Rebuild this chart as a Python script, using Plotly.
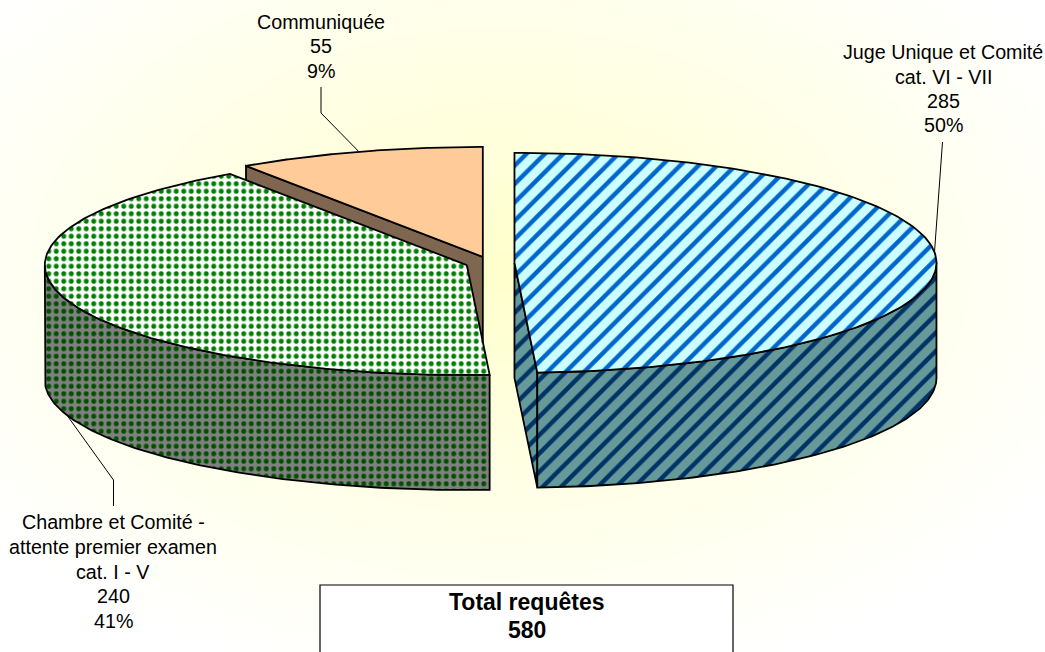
import numpy as np
import plotly.graph_objects as go

# --- data ---
categories = ["Juge Unique et Comité cat. VI - VII",
              "Chambre et Comité - attente premier examen cat. I - V",
              "Communiquée"]
values = [285, 240, 55]
percent_labels = ["50%", "41%", "9%"]
label_lines = [["Juge Unique et Comité", "cat. VI - VII"],
               ["Chambre et Comité -", "attente premier examen", "cat. I - V"],
               ["Communiquée"]]
total_title = "Total requêtes"
total_value = 580

# --- layout / style constants ---
W, H = 1045, 652
CX, CY, RX, RY, DEPTH = 490.0, 263.0, 422.0, 110.0, 115.0
EXPLODE = 0.058
FONT = "Liberation Sans"
TOP_STYLE = [dict(bg="#CCFFFF", fg="#0066CC", shape="/", size=13, sol=0.34),
             dict(bg="#FFFFFF", fg="#008000", shape=".", size=7.5, sol=0.34),
             dict(bg="#FFCC99", fg=None, shape=None, size=0, sol=0)]
WALL_STYLE = [dict(bg="#669999", fg="#003366", shape="/", size=13, sol=0.34),
              dict(bg="#808080", fg="#005000", shape=".", size=7.5, sol=0.34),
              dict(bg="#7F6650", fg=None, shape=None, size=0, sol=0)]
LABEL_X = [943, 113, 321]
LABEL_Y = [[52, 77, 101, 125], [522, 547, 572, 596, 621], [22, 46, 71]]
ELBOW = [[(942.5, 142)], [(113.5, 506), (113.5, 480)], [(321, 87), (321, 113)]]

edges = np.concatenate([[0], np.cumsum(values)]) / sum(values) * 360.0
mids = (edges[:-1] + edges[1:]) / 2


def center(i):
    m = np.radians(mids[i])
    return (CX + EXPLODE * RX * np.sin(m), CY - EXPLODE * RY * np.cos(m))


def rim(i, a, dy=0.0):
    cx, cy = center(i)
    r = np.radians(a)
    return cx + RX * np.sin(r), cy - RY * np.cos(r) + dy


def style_kwargs(s):
    kw = dict(fillcolor=s["bg"])
    if s["shape"]:
        kw["fillpattern"] = dict(shape=s["shape"], bgcolor=s["bg"], fgcolor=s["fg"],
                                 size=s["size"], solidity=s["sol"], fillmode="replace")
    return kw


def poly(x, y, s):
    return go.Scatter(x=list(x) + [x[0]], y=list(y) + [y[0]], mode="lines", fill="toself",
                      line=dict(color="black", width=1.8), hoverinfo="skip",
                      showlegend=False, **style_kwargs(s))


def top(i):
    a = np.linspace(edges[i], edges[i + 1], 160)
    x, y = rim(i, a)
    cx, cy = center(i)
    return poly(np.r_[cx, x], np.r_[cy, y], TOP_STYLE[i])


def outer_wall(i):
    lo, hi = max(edges[i], 90), min(edges[i + 1], 270)
    a = np.linspace(lo, hi, 120)
    x, y = rim(i, a)
    return poly(np.r_[x, x[::-1]], np.r_[y, y[::-1] + DEPTH], WALL_STYLE[i])


def cut_face(i, a):
    cx, cy = center(i)
    ex, ey = rim(i, a)
    return poly([cx, ex, ex, cx], [cy, ey, ey + DEPTH, cy + DEPTH], WALL_STYLE[i])


fig = go.Figure()

# pale radial background
gx = np.linspace(0, W, 132)
gy = np.linspace(0, H, 82)
dx = (gx[None, :] - 500) / 640
dy = (gy[:, None] - 270) / 420
glow = np.clip(1 - np.sqrt(dx ** 2 + dy ** 2), 0, 1)
fig.add_trace(go.Heatmap(x=gx, y=gy, z=glow, zmin=0, zmax=1, showscale=False, hoverinfo="skip",
                         zsmooth="best", colorscale=[[0, "#FFFFFF"], [1, "#FFFFCC"]]))

# back to front
fig.add_trace(cut_face(2, edges[2]))
fig.add_trace(top(2))
fig.add_trace(outer_wall(1))
fig.add_trace(top(1))
fig.add_trace(cut_face(0, edges[1]))
fig.add_trace(outer_wall(0))
fig.add_trace(top(0))

# leader lines
anchors = [rim(0, mids[0] - 4), rim(1, mids[1], DEPTH), rim(2, mids[2])]
for i, pts in enumerate(ELBOW):
    px = [p[0] for p in pts] + [anchors[i][0]]
    py = [p[1] for p in pts] + [anchors[i][1]]
    fig.add_trace(go.Scatter(x=px, y=py, mode="lines", line=dict(color="black", width=1),
                             hoverinfo="skip", showlegend=False))

annotations = []
for i in range(len(values)):
    lines = label_lines[i] + [str(values[i]), percent_labels[i]]
    for text, y in zip(lines, LABEL_Y[i]):
        annotations.append(dict(x=LABEL_X[i], y=y, text=text, showarrow=False, xref="x", yref="y",
                                font=dict(family=FONT, size=19.7, color="black"),
                                xanchor="center", yanchor="middle"))
for text, y in [(total_title, 602), (str(total_value), 630)]:
    annotations.append(dict(x=527, y=y, text=f"<b>{text}</b>", showarrow=False, xref="x", yref="y",
                            font=dict(family=FONT, size=23, color="black"),
                            xanchor="center", yanchor="middle"))

fig.update_layout(
    width=W, height=H, margin=dict(l=0, r=0, t=0, b=0), paper_bgcolor="white", plot_bgcolor="white",
    xaxis=dict(range=[0, W], visible=False, fixedrange=True),
    yaxis=dict(range=[H, 0], visible=False, fixedrange=True),
    annotations=annotations,
    shapes=[dict(type="rect", xref="x", yref="y", x0=320, x1=733, y0=585, y1=670,
                 fillcolor="white", line=dict(color="black", width=1.2), layer="above")],
)
fig.write_html("out.html", config=dict(displayModeBar=False),
               post_script="document.body.style.margin='0';document.body.style.overflow='hidden';")
